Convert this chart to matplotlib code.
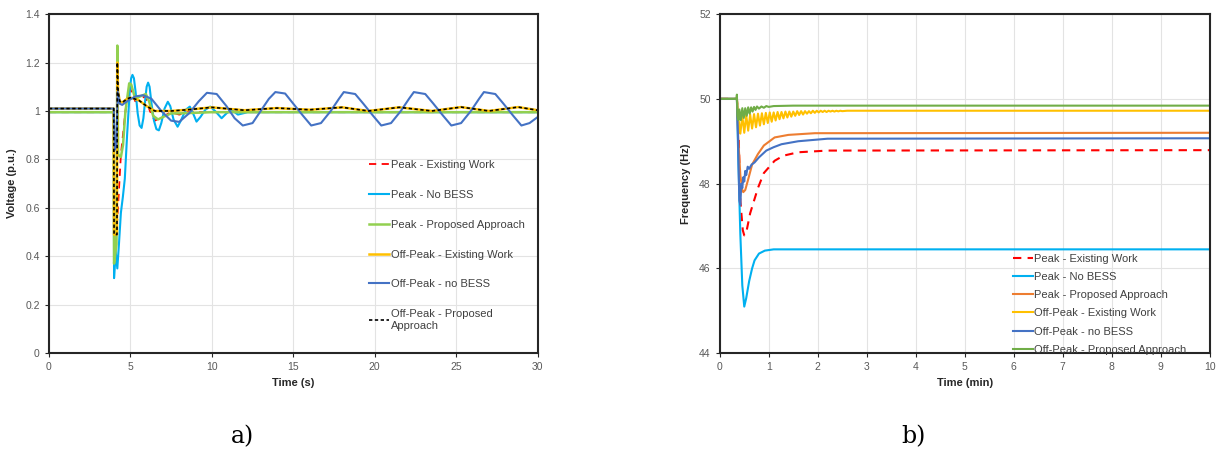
import matplotlib
matplotlib.use("Agg")
import matplotlib.pyplot as plt

plt.rcParams['font.family'] = ['Liberation Sans', 'DejaVu Sans']

# ---- a) voltage (p.u.) vs time (s)
t_pk_exist = [0, 3.98, 4.0, 4.2, 4.42, 4.7, 4.95, 5.3, 5.9, 6.2, 6.5, 6.8, 7.5, 8.0, 8.5, 30]
v_pk_exist = [0.995, 0.995, 0.53, 0.55, 0.82, 1.0, 1.1, 1.04, 1.06, 1.0, 0.96, 0.97, 0.995, 0.985, 0.995, 0.995]

t_pk_nobess = [0, 3.98, 4.0, 4.1, 4.2, 4.3, 4.42, 4.54, 4.66, 4.8, 4.97, 5.05, 5.13, 5.22, 5.32,
               5.45, 5.57, 5.69, 5.8, 5.92, 6.0, 6.09, 6.18, 6.3, 6.45, 6.6, 6.75, 6.9, 7.1,
               7.3, 7.45, 7.65, 7.9, 8.1, 8.4, 8.65, 8.85, 9.06, 9.3, 9.6, 9.9, 10.2, 10.6,
               10.9, 11.2, 11.6, 12.2, 30]
v_pk_nobess = [0.995, 0.995, 0.31, 0.42, 0.35, 0.45, 0.58, 0.645, 0.72, 0.9, 1.09, 1.135, 1.149,
               1.135, 1.08, 0.99, 0.94, 0.93, 0.97, 1.05, 1.1, 1.117, 1.1, 1.03, 0.96, 0.925,
               0.92, 0.95, 1.01, 1.038, 1.02, 0.965, 0.935, 0.96, 1.005, 1.018, 0.99, 0.956,
               0.975, 1.005, 1.018, 1.0, 0.97, 0.99, 1.005, 0.985, 0.995, 0.995]

t_pk_prop = [0, 3.98, 4.0, 4.15, 4.2, 4.25, 4.42, 4.55, 4.7, 4.93, 5.05, 5.3, 5.6, 5.95, 6.15,
             6.4, 6.7, 7.0, 7.5, 8.0, 10, 30]
v_pk_prop = [0.995, 0.995, 0.37, 0.45, 1.27, 0.82, 0.81, 0.86, 1.0, 1.114, 1.11, 1.05, 1.06, 1.07,
             1.04, 0.98, 0.965, 0.975, 0.99, 0.99, 0.995, 0.995]

t_op_exist = [0, 3.98, 4.0, 4.18, 4.2, 4.25, 4.35, 4.5, 4.8, 5.0, 5.5, 6.0, 6.5, 7.5, 8.5, 10.0,
              12.0, 14.0, 16.0, 18.0, 19.6, 21.5, 23.5, 25.3, 27.0, 28.8, 30]
v_op_exist = [1.01, 1.01, 0.49, 0.49, 1.2, 1.08, 1.04, 1.035, 1.05, 1.055, 1.045, 1.02, 1.0, 1.0,
              1.005, 1.015, 1.003, 1.012, 1.005, 1.015, 1.0, 1.015, 1.0, 1.016, 1.0, 1.016, 1.003]

t_op_nobess = [0, 3.98, 4.05, 4.15, 4.22, 4.35, 4.5, 4.8, 5.3, 5.8, 6.3, 6.9, 7.5, 8.0, 8.6,
               9.2, 9.7, 10.3, 10.9, 11.4, 11.9, 12.5, 13.0, 13.5, 13.9, 14.5, 15.0, 15.6,
               16.1, 16.7, 17.3, 17.8, 18.1, 18.8, 19.3, 19.9, 20.4, 21.0, 21.6, 22.1, 22.4,
               23.1, 23.6, 24.2, 24.7, 25.3, 25.9, 26.4, 26.7, 27.4, 27.9, 28.5, 29.0, 29.5, 30]
v_op_nobess = [1.01, 1.01, 0.84, 0.86, 1.08, 1.03, 1.025, 1.04, 1.06, 1.065, 1.05, 1.0, 0.96,
               0.955, 0.99, 1.04, 1.075, 1.07, 1.02, 0.97, 0.94, 0.95, 1.0, 1.05, 1.078, 1.072,
               1.03, 0.98, 0.94, 0.95, 1.0, 1.05, 1.078, 1.07, 1.03, 0.98, 0.94, 0.95, 1.0,
               1.05, 1.078, 1.07, 1.03, 0.98, 0.94, 0.95, 1.0, 1.05, 1.078, 1.07, 1.03, 0.98,
               0.94, 0.95, 0.975]

t_op_prop = t_op_exist
v_op_prop = v_op_exist

# ---- b) frequency (Hz) vs time (min)
tf_pk_exist = [0, 0.35, 0.38, 0.42, 0.47, 0.5, 0.55, 0.62, 0.7, 0.78, 0.9, 1.12, 1.3, 1.6, 2.2, 10]
f_pk_exist = [50, 50, 49.4, 47.6, 46.9, 46.78, 46.9, 47.3, 47.6, 47.9, 48.25, 48.54, 48.66, 48.74, 48.78, 48.79]

tf_pk_nobess = [0, 0.35, 0.38, 0.42, 0.46, 0.5, 0.54, 0.6, 0.66, 0.71, 0.8, 0.92, 1.1, 10]
f_pk_nobess = [50, 50, 48.5, 46.8, 45.6, 45.1, 45.3, 45.7, 46.0, 46.19, 46.35, 46.42, 46.45, 46.45]

tf_pk_prop = [0, 0.35, 0.38, 0.42, 0.46, 0.48, 0.52, 0.58, 0.66, 0.78, 0.9, 1.12, 1.4, 1.94, 10]
f_pk_prop = [50, 50, 49.0, 48.2, 47.85, 47.8, 47.85, 48.1, 48.45, 48.7, 48.9, 49.09, 49.15, 49.19, 49.2]

tf_op_exist = [0, 0.35, 0.38, 0.42, 0.46, 0.50, 0.54, 0.58, 0.62, 0.66, 0.70, 0.74, 0.78, 0.82,
               0.86, 0.90, 0.94, 0.98, 1.02, 1.06, 1.10, 1.14, 1.18, 1.22, 1.26, 1.30, 1.34,
               1.38, 1.42, 1.46, 1.50, 1.54, 1.58, 1.62, 1.66, 1.70, 1.74, 1.78, 1.82, 1.86,
               1.90, 1.94, 1.98, 2.02, 2.06, 2.10, 2.14, 2.18, 2.22, 2.26, 2.30, 2.34, 2.38,
               2.42, 2.46, 2.50, 2.6, 10]
f_op_exist = [50, 50, 49.55, 49.18, 49.6, 49.2, 49.62, 49.25, 49.63, 49.3, 49.64, 49.33, 49.65,
              49.37, 49.66, 49.4, 49.67, 49.43, 49.68, 49.46, 49.68, 49.49, 49.69, 49.52, 49.69,
              49.54, 49.70, 49.56, 49.70, 49.58, 49.70, 49.6, 49.71, 49.62, 49.71, 49.63, 49.71,
              49.65, 49.71, 49.66, 49.72, 49.67, 49.72, 49.68, 49.72, 49.69, 49.72, 49.69, 49.72,
              49.7, 49.72, 49.7, 49.72, 49.705, 49.72, 49.71, 49.72, 49.72]

tf_op_nobess = [0, 0.35, 0.37, 0.4, 0.42, 0.44, 0.46, 0.48, 0.5, 0.52, 0.54, 0.57, 0.6, 0.65,
                0.71, 0.8, 0.95, 1.1, 1.26, 1.6, 2.2, 10]
f_op_nobess = [50, 50, 49.2, 47.6, 47.5, 48.0, 47.9, 48.15, 48.05, 48.3, 48.2, 48.4, 48.35, 48.45,
               48.5, 48.62, 48.78, 48.86, 48.93, 49.0, 49.06, 49.07]

tf_op_prop = [0, 0.34, 0.35, 0.36, 0.38, 0.40, 0.43, 0.46, 0.49, 0.52, 0.55, 0.58, 0.61, 0.64,
              0.67, 0.70, 0.73, 0.76, 0.80, 0.85, 0.90, 0.95, 1.0, 1.1, 1.5, 10]
f_op_prop = [50, 50, 50.1, 49.6, 49.5, 49.75, 49.5, 49.78, 49.55, 49.78, 49.6, 49.8, 49.65, 49.8,
             49.7, 49.81, 49.74, 49.82, 49.77, 49.82, 49.79, 49.83, 49.81, 49.83, 49.84, 49.84]

labels_a = ["Peak - Existing Work", "Peak - No BESS", "Peak - Proposed Approach",
            "Off-Peak - Existing Work", "Off-Peak - no BESS", "Off-Peak - Proposed\nApproach"]
labels_b = ["Peak - Existing Work", "Peak - No BESS", "Peak - Proposed Approach",
            "Off-Peak - Existing Work", "Off-Peak - no BESS", "Off-Peak - Proposed Approach"]

RED, LBLUE, BLUE, YELLOW, ORANGE = "#FF0000", "#00B0F0", "#4472C4", "#FFC000", "#ED7D31"
LGREEN, GREEN = "#92D050", "#70AD47"
TICK_C = "#595959"


def style_axes(ax):
    ax.grid(True, color="#E3E3E3", linewidth=0.8)
    ax.set_axisbelow(True)
    for s in ax.spines.values():
        s.set_color("#262626")
        s.set_linewidth(1.5)
    ax.tick_params(labelsize=7.5, colors=TICK_C, length=3, width=0.8)
    ax.tick_params(axis="both", color="#262626")


fig = plt.figure(figsize=(12.22, 4.54), dpi=100)

ax1 = fig.add_axes([0.040, 0.222, 0.400, 0.747])
ax1.plot(t_pk_exist, v_pk_exist, color=RED, lw=1.3, dashes=(4, 3), label=labels_a[0])
ax1.plot(t_pk_nobess, v_pk_nobess, color=LBLUE, lw=1.5, label=labels_a[1])
ax1.plot(t_pk_prop, v_pk_prop, color=LGREEN, lw=1.8, label=labels_a[2])
ax1.plot(t_op_exist, v_op_exist, color=YELLOW, lw=1.8, label=labels_a[3])
ax1.plot(t_op_nobess, v_op_nobess, color=BLUE, lw=1.5, label=labels_a[4])
ax1.plot(t_op_prop, v_op_prop, color="black", lw=1.2, dashes=(2, 1.5), label=labels_a[5])
ax1.set_xlim(0, 30)
ax1.set_ylim(0, 1.4)
ax1.set_xticks([0, 5, 10, 15, 20, 25, 30])
ax1.set_yticks([0, 0.2, 0.4, 0.6, 0.8, 1.0, 1.2, 1.4])
ax1.set_yticklabels(["0", "0.2", "0.4", "0.6", "0.8", "1", "1.2", "1.4"])
style_axes(ax1)
ax1.set_xlabel("Time (s)", fontsize=8, fontweight="bold", color="#262626", labelpad=4)
ax1.set_ylabel("Voltage (p.u.)", fontsize=8, fontweight="bold", color="#262626", labelpad=6)
ax1.legend(loc="upper left", bbox_to_anchor=(0.654, 0.569), frameon=False, fontsize=8,
           labelspacing=1.78, handlelength=1.8, handletextpad=0.2, borderpad=0,
           borderaxespad=0, labelcolor="#404040")

ax2 = fig.add_axes([0.589, 0.222, 0.401, 0.747])
ax2.plot(tf_pk_exist, f_pk_exist, color=RED, lw=1.5, dashes=(4, 3), label=labels_b[0])
ax2.plot(tf_pk_nobess, f_pk_nobess, color=LBLUE, lw=1.5, label=labels_b[1])
ax2.plot(tf_pk_prop, f_pk_prop, color=ORANGE, lw=1.5, label=labels_b[2])
ax2.plot(tf_op_exist, f_op_exist, color=YELLOW, lw=1.5, label=labels_b[3])
ax2.plot(tf_op_nobess, f_op_nobess, color=BLUE, lw=1.5, label=labels_b[4])
ax2.plot(tf_op_prop, f_op_prop, color=GREEN, lw=1.5, label=labels_b[5])
ax2.set_xlim(0, 10)
ax2.set_ylim(44, 52)
ax2.set_xticks(range(0, 11))
ax2.set_yticks([44, 46, 48, 50, 52])
style_axes(ax2)
ax2.set_xlabel("Time (min)", fontsize=8, fontweight="bold", color="#262626", labelpad=4)
ax2.set_ylabel("Frequency (Hz)", fontsize=8, fontweight="bold", color="#262626", labelpad=6)
ax2.legend(loc="upper left", bbox_to_anchor=(0.598, 0.293), frameon=False, fontsize=8,
           labelspacing=0.735, handlelength=1.8, handletextpad=0.1, borderpad=0,
           borderaxespad=0, labelcolor="#404040")

fig.text(243 / 1222, 1 - 437 / 454, "a)", fontsize=17, family=["DejaVu Serif"], ha="center", va="center")
fig.text(913 / 1222, 1 - 437 / 454, "b)", fontsize=17, family=["DejaVu Serif"], ha="center", va="center")

fig.savefig("out.png", dpi=100, facecolor="white")
